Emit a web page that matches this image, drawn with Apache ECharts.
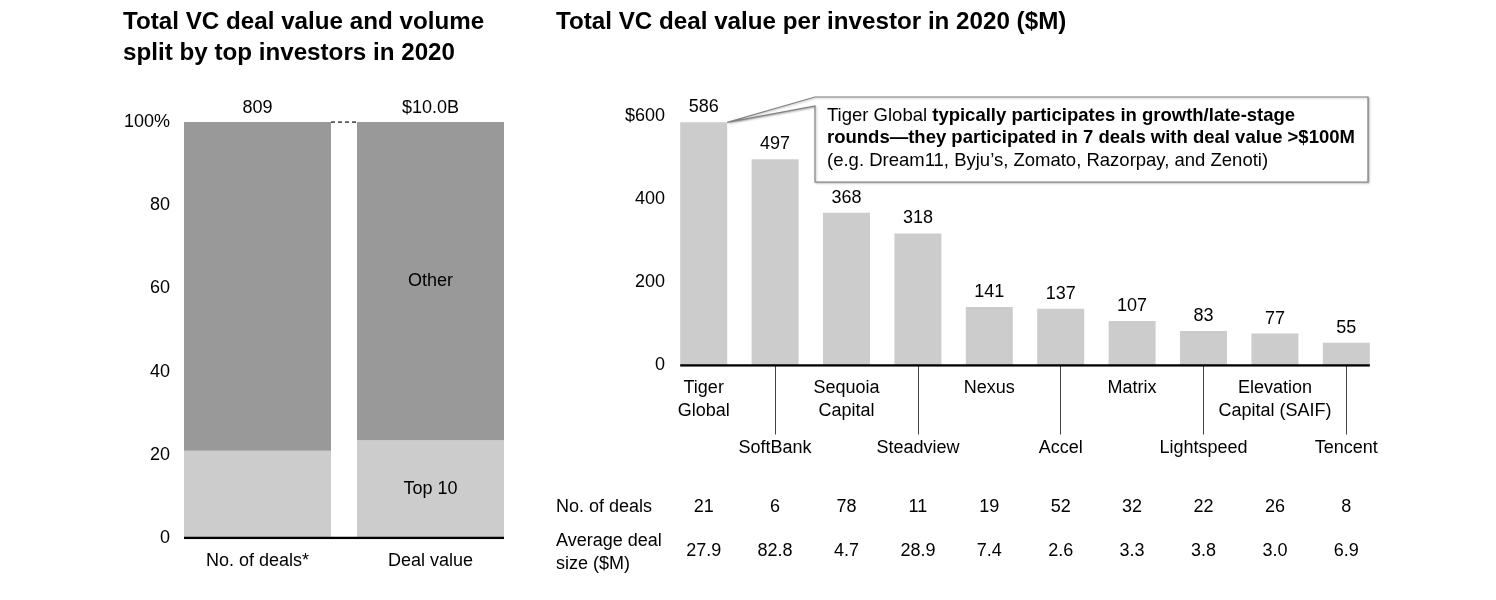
<!DOCTYPE html>
<html>
<head>
<meta charset="utf-8">
<script src="https://cdn.jsdelivr.net/npm/echarts@6/dist/echarts.min.js"></script>
<style>
  html, body { margin: 0; padding: 0; background: #fff; }
  #chart { width: 1496px; height: 600px; }
</style>
</head>
<body>
<div id="chart"></div>
<script>
// ---- Left chart data ----
const splitCategories = ['No. of deals*', 'Deal value'];
const top10Share = [21, 23.5];
const otherShare = [79, 76.5];
const splitTotals = ['809', '$10.0B'];

// ---- Right chart data ----
const investors = ['Tiger\nGlobal', 'SoftBank', 'Sequoia\nCapital', 'Steadview', 'Nexus', 'Accel', 'Matrix', 'Lightspeed', 'Elevation\nCapital (SAIF)', 'Tencent'];
const dealValue = [586, 497, 368, 318, 141, 137, 107, 83, 77, 55];
const numDeals = [21, 6, 78, 11, 19, 52, 32, 22, 26, 8];
const avgDealSize = ['27.9', '82.8', '4.7', '28.9', '7.4', '2.6', '3.3', '3.8', '3.0', '6.9'];

const FONT = '"Liberation Sans", Arial, Helvetica, sans-serif';
const FS = 18;

const chart = echarts.init(document.getElementById('chart'), null, { renderer: 'canvas' });

const leftBarHalf = 73.5 / 173;   // half bar width in category units
const rightBarHalf = 23.5 / 71.4;

function catAxis(gridIndex, data, label, extra) {
  return Object.assign({
    type: 'category', gridIndex: gridIndex, data: data, position: 'bottom', offset: 0,
    axisLine: { show: false }, axisTick: { show: false },
    axisLabel: Object.assign({ fontFamily: FONT, fontSize: FS, color: '#000' }, label)
  }, extra || {});
}

const option = {
  animation: false,
  backgroundColor: '#ffffff',
  textStyle: { fontFamily: FONT, color: '#000' },
  title: [
    { text: 'Total VC deal value and volume\nsplit by top investors in 2020', left: 123, top: 7, padding: 0,
      textStyle: { fontFamily: FONT, fontSize: 24.2, fontWeight: 'bold', color: '#000', lineHeight: 31 } },
    { text: 'Total VC deal value per investor in 2020 ($M)', left: 556, top: 7, padding: 0,
      textStyle: { fontFamily: FONT, fontSize: 24.2, fontWeight: 'bold', color: '#000', lineHeight: 31 } }
  ],
  grid: [
    { left: 171, width: 346, top: 122, height: 416, outerBoundsMode: 'none', containLabel: false },
    { left: 668, width: 714, top: 116.5, height: 249, outerBoundsMode: 'none', containLabel: false }
  ],
  xAxis: [
    catAxis(0, splitCategories, { margin: 14 }),
    { type: 'value', gridIndex: 0, min: -0.5, max: 1.5, show: false, position: 'bottom' },
    // top row of investor labels (even indices)
    catAxis(1, investors, { margin: 11, lineHeight: 23, interval: 0,
      formatter: (v, i) => (i % 2 === 0 ? v : '') }),
    // bottom row of investor labels (odd indices) with leader ticks
    catAxis(1, investors, { margin: 71, lineHeight: 23, interval: (i) => i % 2 === 1 }, {
      axisTick: { show: true, alignWithLabel: true, length: 69,
        interval: (i) => i % 2 === 1, lineStyle: { color: '#444', width: 1 } } }),
    // table row: number of deals
    catAxis(1, investors, { margin: 132, lineHeight: 20, interval: 0,
      formatter: (v, i) => String(numDeals[i]) }),
    // table row: average deal size
    catAxis(1, investors, { margin: 176, lineHeight: 20, interval: 0,
      formatter: (v, i) => avgDealSize[i] }),
    { type: 'value', gridIndex: 1, min: -0.5, max: investors.length - 0.5, show: false, position: 'bottom' }
  ],
  yAxis: [
    { type: 'value', gridIndex: 0, min: 0, max: 100, interval: 20, position: 'left',
      axisLine: { show: false }, axisTick: { show: false }, splitLine: { show: false },
      axisLabel: { fontFamily: FONT, fontSize: FS, color: '#000', margin: 1,
        formatter: (v) => (v === 100 ? '100%' : String(v)) } },
    { type: 'value', gridIndex: 1, min: 0, max: 600, interval: 200, position: 'left',
      axisLine: { show: false }, axisTick: { show: false }, splitLine: { show: false },
      axisLabel: { fontFamily: FONT, fontSize: FS, color: '#000', margin: 3,
        formatter: (v) => (v === 600 ? '$600' : String(v)) } }
  ],
  series: [
    { name: 'Top 10', type: 'bar', stack: 'split', xAxisIndex: 0, yAxisIndex: 0,
      barWidth: 147, itemStyle: { color: '#cccccc' },
      data: top10Share.map((v, i) => ({ value: v, label: { show: i === 1 } })),
      label: { show: false, position: 'inside', formatter: 'Top 10', fontFamily: FONT, fontSize: FS, color: '#000' } },
    { name: 'Other', type: 'bar', stack: 'split', xAxisIndex: 0, yAxisIndex: 0,
      barWidth: 147, itemStyle: { color: '#999999' },
      data: otherShare.map((v, i) => ({ value: v, label: { show: i === 1 } })),
      label: { show: false, position: 'inside', formatter: 'Other', fontFamily: FONT, fontSize: FS, color: '#000' } },
    { name: 'totals', type: 'scatter', xAxisIndex: 0, yAxisIndex: 0, symbolSize: 0.1,
      itemStyle: { color: '#999999', opacity: 1 },
      data: splitTotals.map(() => 100),
      label: { show: true, position: 'top', distance: 5, fontFamily: FONT, fontSize: FS, color: '#000',
        opacity: 1, textBorderWidth: 0, formatter: (p) => splitTotals[p.dataIndex] } },
    { name: 'leftAxis', type: 'line', xAxisIndex: 1, yAxisIndex: 0, symbol: 'none',
      lineStyle: { color: '#000', width: 2.5 },
      data: [[-leftBarHalf, 0], [1 + leftBarHalf, 0]] },
    { name: 'connector', type: 'line', xAxisIndex: 1, yAxisIndex: 0, symbol: 'none',
      lineStyle: { color: '#222', width: 1.3, type: [4, 3] },
      data: [[leftBarHalf, 100], [1 - leftBarHalf, 100]] },
    { name: 'Deal value', type: 'bar', xAxisIndex: 2, yAxisIndex: 1, barWidth: 47,
      itemStyle: { color: '#cccccc' }, data: dealValue,
      label: { show: true, position: 'top', distance: 6, fontFamily: FONT, fontSize: FS, color: '#000' } },
    { name: 'rightAxis', type: 'line', xAxisIndex: 6, yAxisIndex: 1, symbol: 'none',
      lineStyle: { color: '#000', width: 2.5 },
      data: [[-rightBarHalf, 0], [investors.length - 1 + rightBarHalf, 0]] }
  ]
};

chart.setOption(option);

// Callout annotation pointing at the top-right corner of the Tiger Global bar
const apex = chart.convertToPixel({ seriesIndex: 6 }, [rightBarHalf, dealValue[0]]);
const boxL = 815, boxT = 97, boxR = 1368, boxB = 182;
chart.setOption({
  graphic: [
    { type: 'polygon', z: 100,
      shape: { points: [[boxL, boxT], [boxR, boxT], [boxR, boxB], [boxL, boxB], [boxL, boxT + 9], apex] },
      style: { fill: '#fff', stroke: '#808080', lineWidth: 1.2,
        shadowBlur: 2, shadowColor: 'rgba(0,0,0,0.25)', shadowOffsetX: 1, shadowOffsetY: 1 } },
    { type: 'text', z: 101, x: 827, y: 104.5,
      style: {
        text: '{n|Tiger Global }{b|typically participates in growth/late-stage}\n{b|rounds\u2014they participated in 7 deals with deal value >$100M}\n{n|(e.g. Dream11, Byju\u2019s, Zomato, Razorpay, and Zenoti)}',
        verticalAlign: 'top', align: 'left',
        rich: {
          n: { fontFamily: FONT, fontSize: 18.5, color: '#333', lineHeight: 22.5 },
          b: { fontFamily: FONT, fontSize: 18.5, fontWeight: 'bold', color: '#333', lineHeight: 22.5 }
        }
      } },
    { type: 'text', x: 556, y: 507,
      style: { text: 'No. of deals', fontFamily: FONT, fontSize: FS, fill: '#000', verticalAlign: 'middle', align: 'left' } },
    { type: 'text', x: 556, y: 530,
      style: { text: 'Average deal\nsize ($M)', fontFamily: FONT, fontSize: FS, fill: '#000', lineHeight: 23, verticalAlign: 'top', align: 'left' } }
  ]
});
</script>
</body>
</html>
